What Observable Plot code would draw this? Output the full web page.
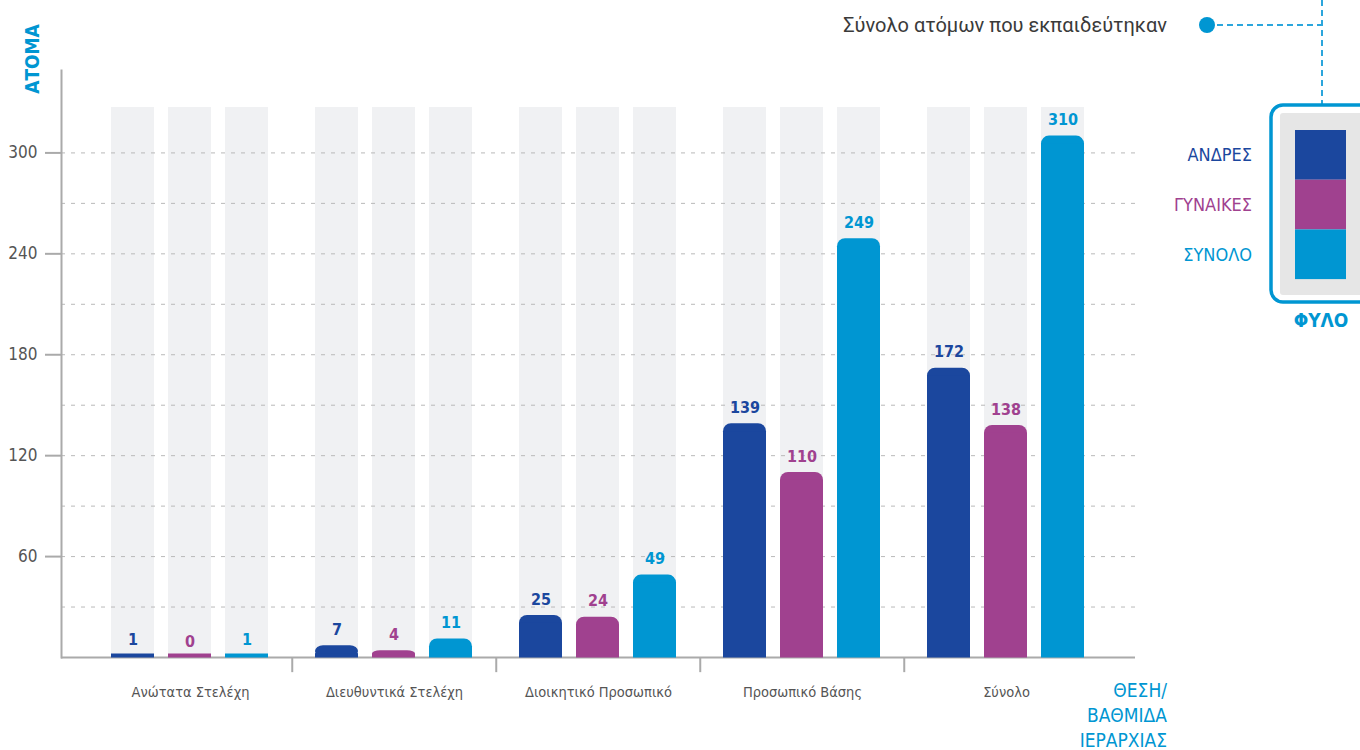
<!DOCTYPE html>
<html><head><meta charset="utf-8">
<script src="https://cdn.jsdelivr.net/npm/d3@7"></script>
<script src="https://cdn.jsdelivr.net/npm/@observablehq/plot@0.6"></script>
<style>
body{margin:0;background:#fff;}
#wrap{position:relative;width:1360px;height:750px;overflow:hidden;}
#wrap > svg{position:absolute;left:0;top:0;margin:0;}
</style></head><body><div id="wrap"></div>
<script>
// ---- data ----
const groups = ["Ανώτατα Στελέχη", "Διευθυντικά Στελέχη", "Διοικητικό Προσωπικό", "Προσωπικό Βάσης", "Σύνολο"];
const series = ["ΑΝΔΡΕΣ", "ΓΥΝΑΙΚΕΣ", "ΣΥΝΟΛΟ"];
const men = [1, 7, 25, 139, 172];
const women = [0, 4, 24, 110, 138];
const total = [1, 11, 49, 249, 310];
const colors = ["#1b479e", "#a0418f", "#0096d2"];
const yTicks = [60, 120, 180, 240, 300];
const gridTicks = [30, 60, 90, 120, 150, 180, 210, 240, 270, 300];
const title = "Σύνολο ατόμων που εκπαιδεύτηκαν";
const yTitle = "ΑΤΟΜΑ";
const xTitle = ["ΘΕΣΗ/", "ΒΑΘΜΙΔΑ", "ΙΕΡΑΡΧΙΑΣ"];
const legendTitle = "ΦΥΛΟ";

const valuesBySeries = [men, women, total];
const rows = [];
groups.forEach((g, gi) => series.forEach((s, si) => rows.push({group: g, series: s, value: valuesBySeries[si][gi]})));

// ---- layout ----
const W = 1360, H = 750, mT = 70, mB = 93, mL = 61, mR = 225;
const yMax = 349, bgTop = 327, fxPO = 0.126;
const pxPerUnit = (H - mT - mB) / yMax;
const step = (W - mL - mR) / (groups.length + 2 * fxPO);
const condensed = "'Liberation Sans Narrow', 'DejaVu Sans Condensed', 'Roboto Condensed', Roboto, sans-serif";
const wrap = document.getElementById("wrap");

const common = {
  width: W, height: H, marginTop: mT, marginBottom: mB, marginLeft: mL, marginRight: mR,
  y: {domain: [0, yMax], axis: null},
  style: {background: "transparent", fontFamily: condensed, overflow: "visible"}
};
const facetOpts = {
  facet: {data: rows, x: "group"},
  fx: {domain: groups, paddingInner: 0, paddingOuter: fxPO, axis: null, label: null},
  x: {domain: series, paddingInner: 0.241, paddingOuter: 0.383, axis: null, label: null},
  color: {domain: series, range: colors}
};

// layer 1: grey background columns
wrap.append(Plot.plot({
  ...common, ...facetOpts,
  marks: [Plot.barY(rows, {x: "series", y: () => bgTop, fill: "#f0f1f3"})]
}));

// layer 2: grid & axes
wrap.append(Plot.plot({
  ...common,
  x: {domain: groups, type: "band", paddingInner: 0, paddingOuter: fxPO, axis: null, label: null},
  marks: [
    Plot.ruleY(gridTicks, {stroke: "#b9b9b9", strokeWidth: 1, strokeDasharray: "4,6"}),
    Plot.frame({anchor: "left", stroke: "#aaaaaa", strokeWidth: 2}),
    Plot.ruleY([0], {stroke: "#aaaaaa", strokeWidth: 2}),
    Plot.ruleX(groups.slice(1), {x: d => d, y1: () => 0, y2: () => -9, dx: -step / 2, stroke: "#aaaaaa", strokeWidth: 2}),
    Plot.axisY({ticks: yTicks, tickSize: 16, tickPadding: 8, stroke: "#aaaaaa", strokeWidth: 2, fill: "#555", fontSize: 17, label: null}),
    Plot.axisX({tickSize: 0, tickPadding: 29, fill: "#555", fontSize: 14.5, label: null})
  ]
}));

// layer 3: bars and labels
wrap.append(Plot.plot({
  ...common, ...facetOpts,
  marks: [
    Plot.tickY(rows, {x: "series", y: () => 0, stroke: "series", strokeWidth: 4, dy: -2}),
    Plot.barY(rows, {x: "series", y: "value", fill: "series", rx: 8}),
    Plot.barY(rows, {filter: d => d.value * pxPerUnit > 9, x: "series", y: "value", fill: "series", insetTop: 8}),
    Plot.text(rows, {x: "series", y: "value", text: d => String(d.value), fill: "series", dy: -16, fontSize: 16, fontWeight: "bold"})
  ]
}));

// overlay: title, connector, legend, axis titles
const ov = d3.select(wrap).append("svg").attr("width", W).attr("height", H)
  .style("font-family", condensed);
ov.append("text").attr("x", 1167).attr("y", 25).attr("dy", "0.35em").attr("text-anchor", "end")
  .style("font-family", "Roboto, sans-serif").attr("font-size", 20).attr("fill", "#3a3a3a").text(title);
ov.append("path").attr("d", "M1207,25H1322M1322,0V104").attr("fill", "none")
  .attr("stroke", "#2ba6dc").attr("stroke-width", 2).attr("stroke-dasharray", "6,4");
ov.append("circle").attr("cx", 1207).attr("cy", 25).attr("r", 8).attr("fill", "#0096d2");
ov.append("rect").attr("x", 1271).attr("y", 105).attr("width", 130).attr("height", 197).attr("rx", 12)
  .attr("fill", "#fff").attr("stroke", "#0096d2").attr("stroke-width", 3.5);
ov.append("rect").attr("x", 1280).attr("y", 113).attr("width", 120).attr("height", 182).attr("rx", 3).attr("fill", "#e6e6e6");
const swH = 49.7;
series.forEach((s, i) => {
  ov.append("rect").attr("x", 1295).attr("y", 130 + i * swH).attr("width", 51).attr("height", swH).attr("fill", colors[i]);
  ov.append("text").attr("x", 1252).attr("y", 155 + i * swH).attr("dy", "0.35em").attr("text-anchor", "end")
    .attr("font-size", 18).attr("fill", colors[i]).text(s);
});
ov.append("text").attr("x", 1321).attr("y", 320).attr("dy", "0.35em").attr("text-anchor", "middle")
  .attr("font-size", 19).attr("font-weight", 600).attr("fill", "#0096d2").text(legendTitle);
ov.append("text").attr("transform", "translate(32,59) rotate(-90)").attr("dy", "0.35em").attr("text-anchor", "middle")
  .attr("font-size", 19).attr("font-weight", 600).attr("fill", "#0096d2").text(yTitle);
xTitle.forEach((t, i) => {
  ov.append("text").attr("x", 1167).attr("y", 690 + i * 25).attr("dy", "0.35em").attr("text-anchor", "end")
    .attr("font-size", 19).attr("fill", "#0096d2").text(t);
});
</script></body></html>
